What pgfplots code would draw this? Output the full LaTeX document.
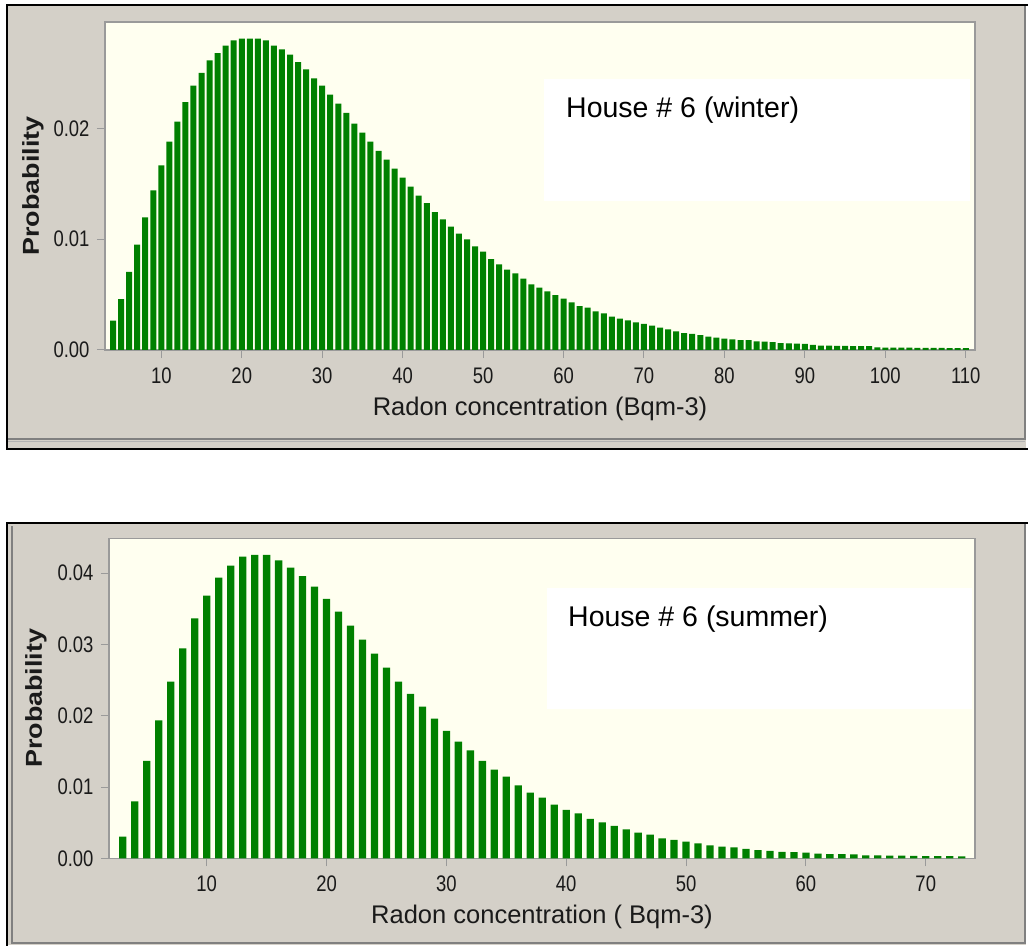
\documentclass[border=0pt]{standalone}
\usepackage{fontspec}
\setmainfont{Liberation Sans}
\newfontfamily\tickfont[FakeStretch=0.82]{Liberation Sans}
\newfontfamily\ylabfont[FakeStretch=1.17]{Liberation Sans}
\usepackage{pgfplots}
\pgfplotsset{compat=1.18}
\usepackage{pgfplotstable}
\definecolor{panel}{HTML}{D4D0C8}
\definecolor{plotbg}{HTML}{FFFFF0}
\definecolor{bargreen}{HTML}{008000}
\definecolor{axgray}{HTML}{9A9A9A}
\definecolor{txt}{HTML}{1A1A1A}

\pgfplotstableread{
x y
4 0.00265
5 0.0046
6 0.00704
7 0.0095
8 0.01197
9 0.0144
10 0.01666
11 0.0188
12 0.0206
13 0.02238
14 0.02385
15 0.0250
16 0.02614
17 0.0268
18 0.02746
19 0.02794
20 0.0281
21 0.0281
22 0.0281
23 0.02794
24 0.02746
25 0.02713
26 0.02665
27 0.02598
28 0.02532
29 0.02451
30 0.02385
31 0.02304
32 0.02223
33 0.02141
34 0.02042
35 0.01961
36 0.0188
37 0.01798
38 0.01717
39 0.01636
40 0.01555
41 0.01474
42 0.01392
43 0.01326
44 0.01245
45 0.01179
46 0.01113
47 0.0105
48 0.00998
49 0.00935
50 0.00887
51 0.00821
52 0.00773
53 0.00725
54 0.00692
55 0.00644
56 0.00592
57 0.00562
58 0.00529
59 0.00496
60 0.00463
61 0.0043
62 0.00397
63 0.00382
64 0.00349
65 0.00331
66 0.00301
67 0.00283
68 0.00268
69 0.0025
70 0.00235
71 0.0022
72 0.00202
73 0.00186
74 0.00168
75 0.00153
76 0.00145
77 0.00135
78 0.0012
79 0.00112
80 0.00103
81 0.00095
82 0.0009
83 0.00088
84 0.00077
85 0.00075
86 0.00072
87 0.00062
88 0.0006
89 0.00058
90 0.00056
91 0.00046
92 0.0004
93 0.00039
94 0.00038
95 0.00037
96 0.00036
97 0.00035
98 0.00034
99 0.00023
100 0.00022
101 0.00022
102 0.00021
103 0.00021
104 0.0002
105 0.0002
106 0.00019
107 0.00019
108 0.00018
109 0.00018
110 0.00017
}\winter

\pgfplotstableread{
x y
3 0.00304
4 0.008
5 0.01366
6 0.01937
7 0.0248
8 0.02947
9 0.03368
10 0.03687
11 0.03939
12 0.04108
13 0.04234
14 0.04257
15 0.04257
16 0.04182
17 0.0408
18 0.03958
19 0.03813
20 0.0364
21 0.03462
22 0.03265
23 0.03069
24 0.02873
25 0.02676
26 0.0248
27 0.02306
28 0.02129
29 0.0196
30 0.01787
31 0.01637
32 0.01516
33 0.01366
34 0.01244
35 0.01146
36 0.01025
37 0.00922
38 0.00851
39 0.00753
40 0.00678
41 0.00632
42 0.00552
43 0.00505
44 0.00454
45 0.00407
46 0.0036
47 0.00332
48 0.00281
49 0.00257
50 0.00234
51 0.00211
52 0.00182
53 0.00165
54 0.00152
55 0.00131
56 0.00115
57 0.00105
58 0.0009
59 0.00085
60 0.0008
61 0.00065
62 0.0006
63 0.00058
64 0.00055
65 0.00042
66 0.0004
67 0.00038
68 0.00036
69 0.00034
70 0.00032
71 0.0003
72 0.00029
73 0.00028
}\summer

\pgfplotsset{
  radon/.style={
    scale only axis,
    anchor=south west,
    ymin=0,
    axis background/.style={fill=plotbg},
    axis line style={axgray, line width=1.6pt},
    tick style={axgray, line width=1pt},
    tick align=outside,
    major tick length=8pt,
    xtick pos=left, ytick pos=left,
    ybar,
    scaled y ticks=false,
    /pgf/number format/assume math mode=true,
    ticklabel style={font=\tickfont\fontsize{22.5}{22.5}\selectfont, text=txt},
    xticklabel style={yshift=-6pt},
    yticklabel style={xshift=-4pt, /pgf/number format/.cd, fixed, fixed zerofill, precision=2},
    xlabel style={font=\fontsize{25.5}{25.5}\selectfont, text=txt, at={(axis description cs:0.5,0)}, anchor=base, yshift=-65pt},
    ylabel style={font=\ylabfont\bfseries\fontsize{23}{23}\selectfont, text=txt, anchor=base},
  }
}

\begin{document}
\begin{tikzpicture}
\begin{scope}[x=1pt,y=1pt]
\path[use as bounding box, fill=white] (0,0) rectangle (1028,-949);
% top panel
\fill[panel] (7,-5) rectangle (1026,-449);
\draw[gray, line width=1.5pt] (8,-439) -- (1025,-439) -- (1025,-5);
\draw[gray!60, line width=1pt] (8,-441.5) -- (1025,-441.5);
\draw[black, line width=2pt] (1028,-5) -- (7,-5) -- (7,-449) -- (1028,-449);
% bottom panel
\fill[panel] (7,-523) rectangle (1026,-945);
\draw[gray, line width=1.5pt] (12,-526) -- (12,-943) -- (1025,-943) -- (1025,-523);
\draw[black, line width=2pt] (1028,-523) -- (7,-523) -- (7,-946);
\end{scope}

\begin{axis}[radon,
  at={(105pt,-350pt)},
  width=870pt, height=328pt,
  xmin=3, xmax=111.15, ymax=0.0296,
  bar width=6pt,
  xtick={10,20,...,110},
  ytick={0,0.01,0.02},
  xlabel={Radon concentration (Bqm-3)},
  ylabel={Probability},
  ylabel style={at={(axis description cs:-0.0761,0.5)}},
]
\addplot[fill=bargreen, draw=none] table[x=x, y=y] {\winter};
\end{axis}

\begin{axis}[radon,
  at={(109pt,-858.3pt)},
  width=866pt, height=320pt,
  xmin=1.845, xmax=74.11, ymax=0.0449,
  bar width=7.3pt,
  xtick={10,20,...,70},
  ytick={0,0.01,0.02,0.03,0.04},
  xlabel={Radon concentration ( Bqm-3)},
  ylabel={Probability},
  ylabel style={at={(axis description cs:-0.0774,0.5)}},
]
\addplot[fill=bargreen, draw=none] table[x=x, y=y] {\summer};
\end{axis}

\begin{scope}[x=1pt,y=1pt]
\fill[white] (544,-79) rectangle (970,-201);
\node[anchor=base west, inner sep=0pt, font=\fontsize{28.5}{28.5}\selectfont] at (566,-118) {House \# 6 (winter)};
\fill[white] (547,-588) rectangle (972,-709);
\node[anchor=base west, inner sep=0pt, font=\fontsize{28.5}{28.5}\selectfont] at (568,-626.7) {House \# 6 (summer)};
\end{scope}
\end{tikzpicture}
\end{document}
